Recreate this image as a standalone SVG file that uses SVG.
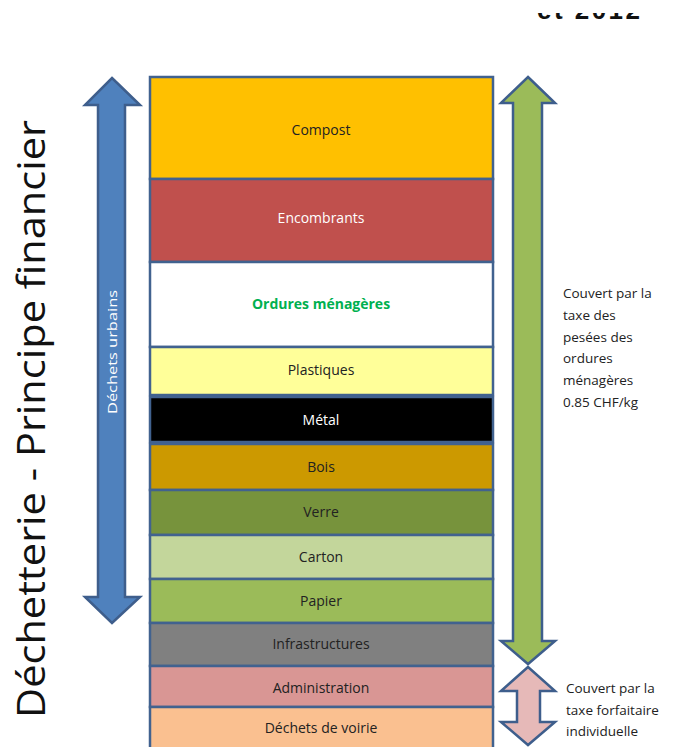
<svg xmlns="http://www.w3.org/2000/svg" width="681" height="747" viewBox="0 0 681 747">
<style>
.box{stroke:#41628F;stroke-width:2.5}
.lbl{font-family:"Open Sans","Noto Sans","Liberation Sans",sans-serif;font-size:14px;text-anchor:middle;fill:#222}
.note{font-family:"Open Sans","Noto Sans","Liberation Sans",sans-serif;font-size:13.5px;fill:#222}
.arrow{stroke:#3E5E8C;stroke-width:2.5;stroke-linejoin:miter}
</style>
<rect width="681" height="747" fill="#ffffff"/>
<text x="537" y="19" font-family="Liberation Sans, sans-serif" font-weight="bold" font-size="26" fill="#111" textLength="103">et 2012</text>
<rect x="500" y="0" width="181" height="13" fill="#ffffff"/>
<text transform="translate(45,419) rotate(-90)" font-family="Open Sans, Noto Sans, sans-serif" font-size="38" fill="#111" text-anchor="middle" textLength="598" lengthAdjust="spacingAndGlyphs">Déchetterie - Principe financier</text>
<g id="connectors">
<g id="arrow-urbains">
<path class="arrow" fill="#4F81BD" d="M112,78 L140,105 L125,105 L125,597 L140,597 L112,623 L85,597 L98,597 L98,105 L85,105 Z"/>
<text transform="translate(117,352) rotate(-90)" font-family="Open Sans, Noto Sans, sans-serif" font-size="13" fill="#ffffff" text-anchor="middle" textLength="124" lengthAdjust="spacingAndGlyphs">Déchets urbains</text>
</g>
<g id="arrow-pesee">
<path class="arrow" fill="#9BBB59" d="M528,77 L555,103 L542,103 L542,641 L555,641 L528,664 L501,641 L513,641 L513,103 L501,103 Z"/>
</g>
<g id="arrow-forfait">
<path class="arrow" fill="#E6B9B8" d="M528,667 L555,691 L540,691 L540,722 L555,722 L528,745 L501,722 L517,722 L517,691 L501,691 Z"/>
</g>
</g>
<g id="n-compost"><rect class="box" x="150" y="77" width="343" height="102" fill="#FFC000"/><text class="lbl" x="321" y="135">Compost</text></g>
<g id="n-encombrants"><rect class="box" x="150" y="179" width="343" height="83" fill="#C0504D"/><text class="lbl" x="321" y="223" style="fill:#fff">Encombrants</text></g>
<g id="n-ordures"><rect class="box" x="150" y="262" width="343" height="85" fill="#ffffff"/><text class="lbl" x="321" y="309" style="fill:#00B050;font-weight:bold">Ordures ménagères</text></g>
<g id="n-plastiques"><rect class="box" x="150" y="347" width="343" height="48" fill="#FFFF99"/><text class="lbl" x="321" y="375">Plastiques</text></g>
<g id="n-metal"><rect class="box" x="150" y="397" width="343" height="45" fill="#000000"/><text class="lbl" x="321" y="425" style="fill:#fff">Métal</text></g>
<g id="n-bois"><rect class="box" x="150" y="444" width="343" height="46" fill="#CC9900"/><text class="lbl" x="321" y="472">Bois</text></g>
<g id="n-verre"><rect class="box" x="150" y="490" width="343" height="45" fill="#77933C"/><text class="lbl" x="321" y="517">Verre</text></g>
<g id="n-carton"><rect class="box" x="150" y="535" width="343" height="44" fill="#C3D69B"/><text class="lbl" x="321" y="562">Carton</text></g>
<g id="n-papier"><rect class="box" x="150" y="579" width="343" height="44" fill="#9BBB59"/><text class="lbl" x="321" y="606">Papier</text></g>
<g id="n-infra"><rect class="box" x="150" y="623" width="343" height="43" fill="#808080"/><text class="lbl" x="321" y="649">Infrastructures</text></g>
<g id="n-admin"><rect class="box" x="150" y="666" width="343" height="41" fill="#D99694"/><text class="lbl" x="321" y="693">Administration</text></g>
<g id="n-voirie"><rect class="box" x="150" y="707" width="343" height="45" fill="#FAC090"/><text class="lbl" x="321" y="733">Déchets de voirie</text></g>
<g id="note-pesee">
<text class="note" x="563" y="298">Couvert par la</text>
<text class="note" x="563" y="320">taxe des</text>
<text class="note" x="563" y="342">pesées des</text>
<text class="note" x="563" y="363">ordures</text>
<text class="note" x="563" y="385">ménagères</text>
<text class="note" x="563" y="407">0.85 CHF/kg</text>
</g>
<g id="note-forfait">
<text class="note" x="566" y="693">Couvert par la</text>
<text class="note" x="566" y="715">taxe forfaitaire</text>
<text class="note" x="566" y="736">individuelle</text>
</g>
</svg>
